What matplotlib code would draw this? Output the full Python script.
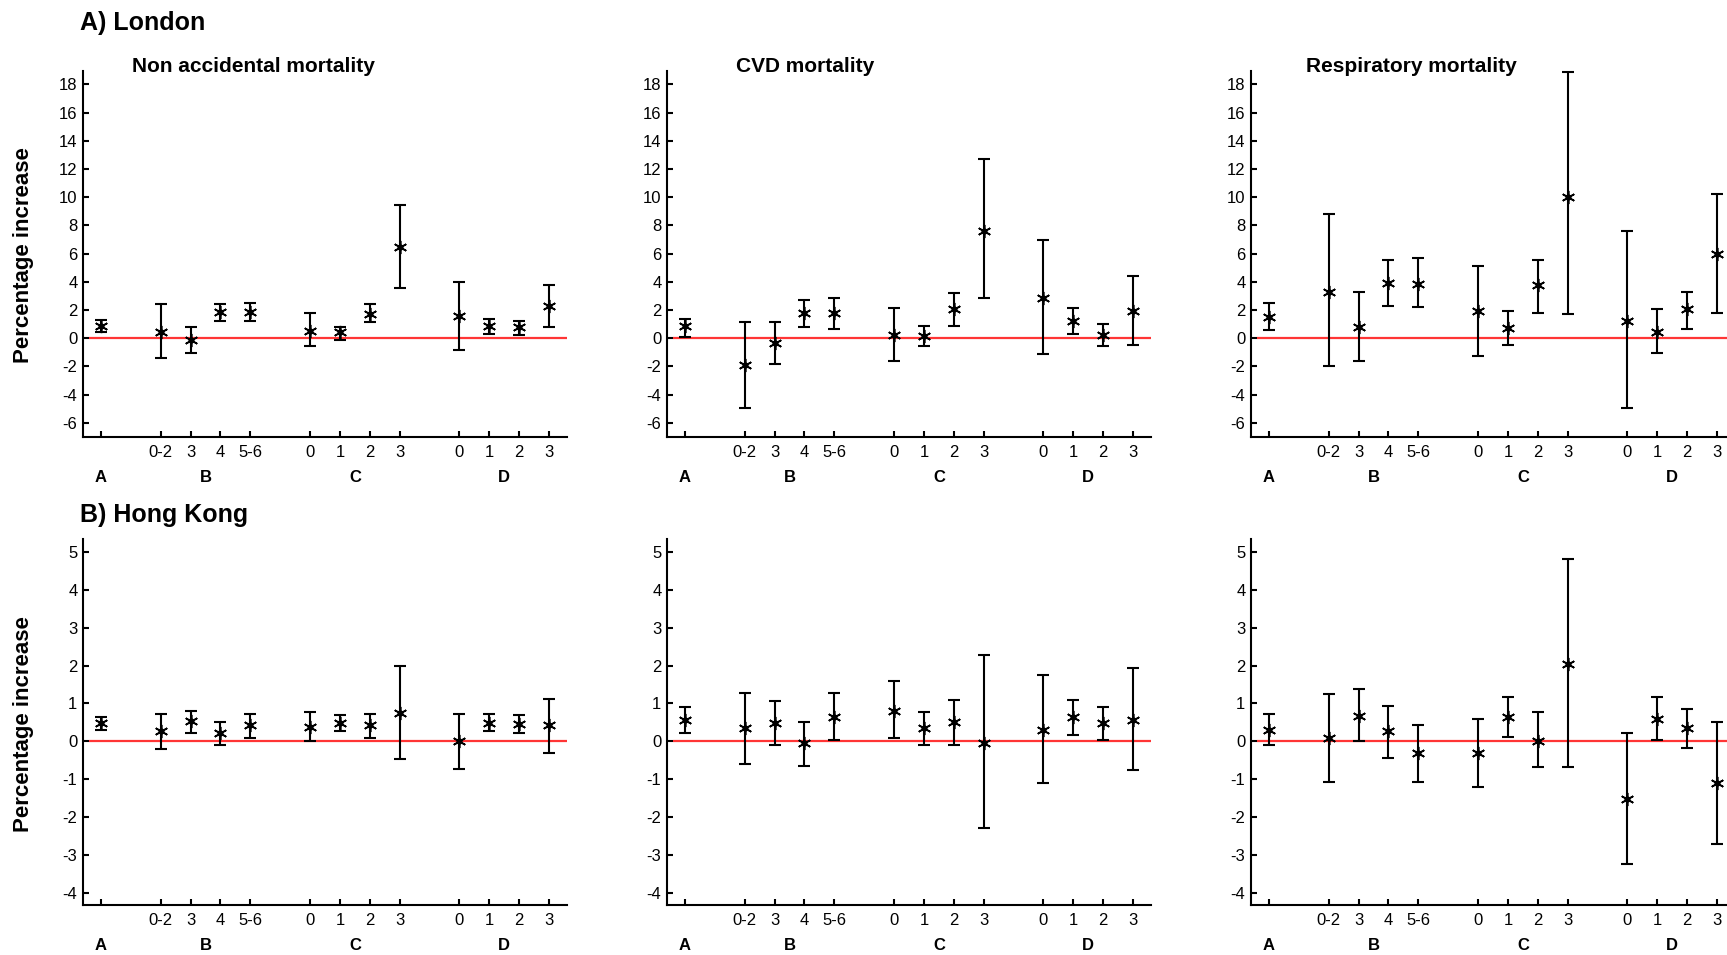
import matplotlib
matplotlib.use("Agg")
import matplotlib.pyplot as plt
from matplotlib.transforms import blended_transform_factory

plt.rcParams['font.family'] = ['Liberation Sans', 'DejaVu Sans']

# ---------------- data ----------------
groups = ['A', 'B', 'C', 'D']
group_items = [[''], ['0-2', '3', '4', '5-6'], ['0', '1', '2', '3'], ['0', '1', '2', '3']]

row_titles = ['A) London', 'B) Hong Kong']
col_titles = ['Non accidental mortality', 'CVD mortality', 'Respiratory mortality']
ylabel = 'Percentage increase'

# London
lon_nonacc_est = [0.85, 0.45, -0.10, 1.84, 1.84, 0.54, 0.42, 1.74, 6.50, 1.60, 0.85, 0.80, 2.30]
lon_nonacc_lo  = [0.45, -1.39, -1.04, 1.23, 1.23, -0.57, -0.10, 1.13, 3.53, -0.80, 0.33, 0.24, 0.80]
lon_nonacc_hi  = [1.27, 2.40, 0.78, 2.40, 2.50, 1.79, 0.80, 2.40, 9.45, 4.00, 1.37, 1.25, 3.77]

lon_cvd_est = [0.85, -1.93, -0.33, 1.79, 1.79, 0.26, 0.14, 2.08, 7.62, 2.85, 1.25, 0.24, 1.96]
lon_cvd_lo  = [0.10, -4.93, -1.82, 0.80, 0.66, -1.60, -0.57, 0.90, 2.85, -1.13, 0.33, -0.57, -0.45]
lon_cvd_hi  = [1.37, 1.13, 1.13, 2.74, 2.85, 2.17, 0.90, 3.18, 12.69, 6.94, 2.17, 1.01, 4.44]

lon_resp_est = [1.49, 3.30, 0.80, 3.89, 3.85, 1.91, 0.73, 3.75, 10.00, 1.20, 0.47, 2.05, 5.97]
lon_resp_lo  = [0.57, -1.96, -1.60, 2.29, 2.19, -1.25, -0.47, 1.82, 1.70, -4.93, -1.04, 0.68, 1.82]
lon_resp_hi  = [2.50, 8.80, 3.30, 5.57, 5.71, 5.12, 1.91, 5.57, 18.90, 7.64, 2.05, 3.28, 10.26]

# Hong Kong
hk_nonacc_est = [0.49, 0.27, 0.53, 0.22, 0.43, 0.39, 0.49, 0.42, 0.74, 0.00, 0.49, 0.45, 0.43]
hk_nonacc_lo  = [0.30, -0.21, 0.22, -0.09, 0.09, 0.00, 0.26, 0.09, -0.46, -0.72, 0.26, 0.22, -0.30]
hk_nonacc_hi  = [0.64, 0.73, 0.81, 0.52, 0.73, 0.78, 0.69, 0.73, 1.98, 0.73, 0.73, 0.69, 1.11]

hk_cvd_est = [0.56, 0.34, 0.48, -0.05, 0.65, 0.81, 0.34, 0.52, -0.04, 0.30, 0.65, 0.48, 0.56]
hk_cvd_lo  = [0.21, -0.60, -0.09, -0.64, 0.04, 0.09, -0.09, -0.09, -2.30, -1.11, 0.18, 0.04, -0.77]
hk_cvd_hi  = [0.90, 1.28, 1.07, 0.52, 1.28, 1.58, 0.77, 1.10, 2.27, 1.75, 1.10, 0.90, 1.93]

hk_resp_est = [0.30, 0.09, 0.68, 0.26, -0.30, -0.30, 0.64, 0.02, 2.04, -1.53, 0.60, 0.34, -1.11]
hk_resp_lo  = [-0.09, -1.07, 0.00, -0.43, -1.07, -1.20, 0.12, -0.69, -0.69, -3.25, 0.04, -0.18, -2.72]
hk_resp_hi  = [0.73, 1.24, 1.37, 0.94, 0.43, 0.60, 1.16, 0.77, 4.82, 0.22, 1.16, 0.86, 0.51]

row1_yticks = [-6, -4, -2, 0, 2, 4, 6, 8, 10, 12, 14, 16, 18]
row2_yticks = [-4, -3, -2, -1, 0, 1, 2, 3, 4, 5]
row1_ylim = (-7.0, 18.95)
row2_ylim = (-4.32, 5.34)

panels = [
    [(lon_nonacc_est, lon_nonacc_lo, lon_nonacc_hi),
     (lon_cvd_est, lon_cvd_lo, lon_cvd_hi),
     (lon_resp_est, lon_resp_lo, lon_resp_hi)],
    [(hk_nonacc_est, hk_nonacc_lo, hk_nonacc_hi),
     (hk_cvd_est, hk_cvd_lo, hk_cvd_hi),
     (hk_resp_est, hk_resp_lo, hk_resp_hi)],
]

# positions derived from group structure (one blank slot between groups)
positions, tick_labels, group_centers = [], [], []
p = 1
for gi, items in enumerate(group_items):
    start = p
    for it in items:
        positions.append(p)
        tick_labels.append(it)
        p += 1
    group_centers.append((start + p - 1) / 2)
    p += 1

# ---------------- figure ----------------
W, H = 1727, 955
fig = plt.figure(figsize=(W / 100, H / 100), dpi=100)

lefts_px = [83, 667, 1251]
width_px = 484
rows_px = [(71, 437), (539, 905)]
title_px = [(132, 67), (736, 67), (1306, 67)]
ylabel_y_px = [255, 724]

for r in range(2):
    top, bot = rows_px[r]
    for c in range(3):
        ax = fig.add_axes([lefts_px[c] / W, (H - bot) / H, width_px / W, (bot - top) / H])
        est, lo, hi = panels[r][c]
        yerr = [[e - l for e, l in zip(est, lo)], [h - e for e, h in zip(est, hi)]]
        ax.hlines(0, 0.6, 16.6, color='#ff3535', lw=1.6, zorder=1)
        ax.errorbar(positions, est, yerr=yerr, fmt='none', ecolor='black',
                    elinewidth=1.5, capsize=4.3, capthick=1.5, zorder=2, clip_on=False)
        ax.plot(positions, est, linestyle='none', marker=(6, 2, 0), markersize=9.5,
                mew=1.2, color='black', zorder=3)
        ax.plot(positions, est, linestyle='none', marker='o', markersize=3.5,
                color='black', zorder=4)
        ax.set_xlim(0.4, 16.6)
        if r == 0:
            ax.set_ylim(*row1_ylim)
            ax.set_yticks(row1_yticks)
        else:
            ax.set_ylim(*row2_ylim)
            ax.set_yticks(row2_yticks)
        ax.set_yticklabels([str(t) for t in ax.get_yticks().astype(int)])
        ax.set_xticks(positions)
        ax.set_xticklabels(tick_labels)
        for s in ['top', 'right']:
            ax.spines[s].set_visible(False)
        for s in ['left', 'bottom']:
            ax.spines[s].set_linewidth(1.5)
        ax.tick_params(axis='both', direction='in', length=4.5, width=1.5,
                       labelsize=12, colors='black')
        ax.tick_params(axis='y', pad=4.0)
        ax.tick_params(axis='x', pad=6)
        trans = blended_transform_factory(ax.transData, ax.transAxes)
        for g, gx in zip(groups, group_centers):
            ax.annotate(g, xy=(gx, 0), xycoords=trans, xytext=(0, -29.5),
                        textcoords='offset points', ha='center', va='center',
                        fontsize=12, fontweight='bold')
        if c == 0:
            fig.text(24 / W, 1 - ylabel_y_px[r] / H, ylabel, rotation=90,
                     fontsize=16, fontweight='bold', ha='center', va='center')
        if r == 0:
            tx, ty = title_px[c]
            fig.text(tx / W, 1 - ty / H, col_titles[c], fontsize=15, fontweight='bold',
                     ha='left', va='center')

fig.text(80 / W, 1 - 23 / H, row_titles[0], fontsize=18, fontweight='bold', ha='left', va='center')
fig.text(80 / W, 1 - 515 / H, row_titles[1], fontsize=18, fontweight='bold', ha='left', va='center')

fig.savefig('out.png', dpi=100)
